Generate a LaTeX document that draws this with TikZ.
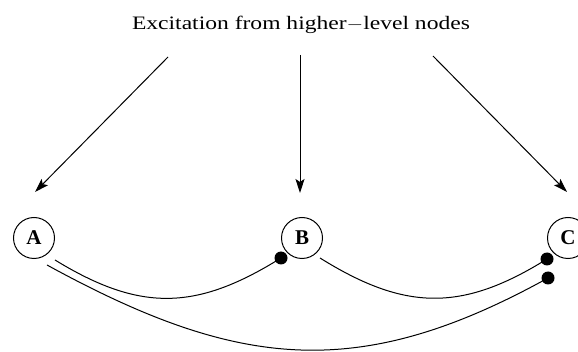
\documentclass[tikz,border=0pt]{standalone}
\usepackage{graphicx}
\usepackage{fontspec}
\setmainfont{Liberation Serif}
\usetikzlibrary{arrows.meta}
\begin{document}
\begin{tikzpicture}[x=1pt,y=-1pt,
  unit/.style={draw,circle,line width=1pt,minimum size=41pt,inner sep=0pt,font=\fontsize{21}{21}\selectfont\bfseries},
  excite/.style={line width=1pt,-{Stealth[length=14pt,width=9pt,inset=3pt]}},
  inhib/.style={line width=1pt},
  blob/.style={fill=black,circle,inner sep=0pt,minimum size=13pt}]
\useasboundingbox (0,0) rectangle (578,352);
\clip (0,0) rectangle (578,352);
\node (title) at (301,25) {\scalebox{1.24}[1]{\fontsize{19}{19}\selectfont Excitation from higher$-$level nodes}};
\node[unit] (A) at (34,238) {A};
\node[unit] (B) at (302,238) {B};
\node[unit] (C) at (568,238) {C};
\coordinate (s1) at (168,57);
\coordinate (t1) at (35,192);
\coordinate (s2) at (300,55);
\coordinate (t2) at (300,193);
\coordinate (s3) at (433,56);
\coordinate (t3) at (567,192);
\draw[excite] (s1) -- (t1);
\draw[excite] (s2) -- (t2);
\draw[excite] (s3) -- (t3);
\coordinate (a1) at (55,260);
\coordinate (a2) at (47,265);
\coordinate (b1) at (320,258);
\node[blob] (dB) at (281,258) {};
\node[blob] (dC1) at (547,259) {};
\node[blob] (dC2) at (548,278) {};
\draw[inhib] (a1) .. controls (140,312) and (196,311) .. (dB.center);
\draw[inhib] (b1) .. controls (405,311) and (462,312) .. (dC1.center);
\draw[inhib] (a2) .. controls (237,369) and (358,383) .. (dC2.center);
\end{tikzpicture}
\end{document}
